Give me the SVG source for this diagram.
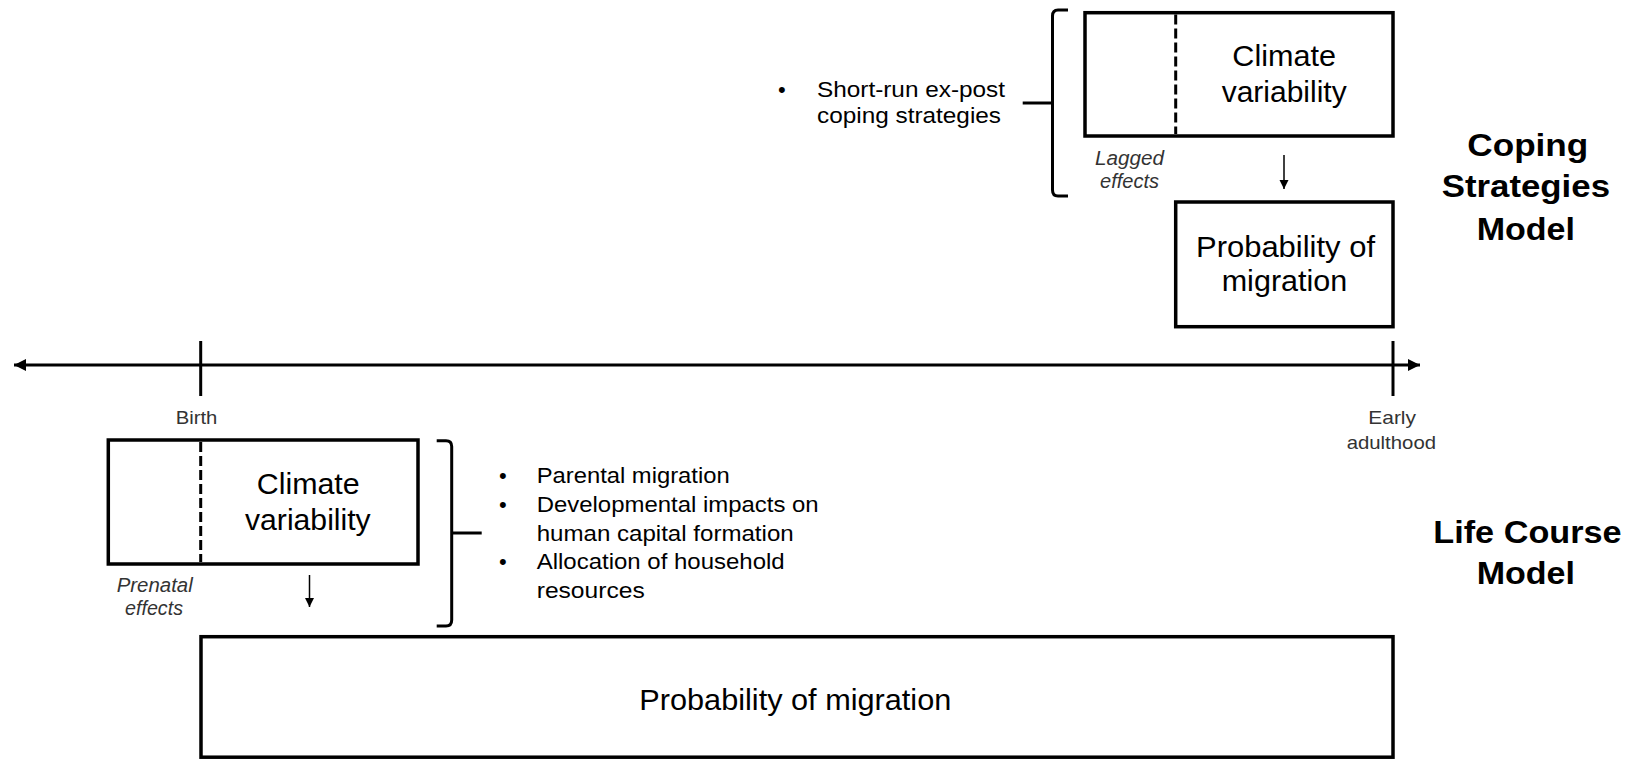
<svg xmlns="http://www.w3.org/2000/svg" width="1633" height="759" viewBox="0 0 1633 759">
<style>
text{font-family:"Liberation Sans",Arial,Helvetica,sans-serif;fill:#000}
.box{fill:#fff;stroke:#000;stroke-width:3.5}
.dash{stroke:#000;stroke-width:3;stroke-dasharray:10 4;fill:none}
.ln{stroke:#000;stroke-width:3;fill:none}
.br{stroke:#000;stroke-width:3;fill:none;stroke-linejoin:round}
.sm{stroke:#000;stroke-width:1.5;fill:none}
.big{font-size:30px}
.prob{font-size:30px}
.bul{font-size:22px}
.lab{font-size:19px;fill:#333}
.it{font-size:20px;font-style:italic;fill:#333}
.ttl{font-size:32px;font-weight:bold}
</style>
<defs>
<marker id="sa" viewBox="0 0 10 10" refX="10" refY="5" markerWidth="9" markerHeight="10" markerUnits="userSpaceOnUse" orient="auto">
<path d="M0,0 L10,5 L0,10 z" fill="#000"/>
</marker>
<marker id="ax" viewBox="0 0 10 10" refX="10" refY="5" markerWidth="12" markerHeight="12" markerUnits="userSpaceOnUse" orient="auto-start-reverse">
<path d="M0,0 L10,5 L0,10 z" fill="#000"/>
</marker>
</defs>

<g id="connectors">
<line class="ln" x1="14" y1="365" x2="1420" y2="365" marker-start="url(#ax)" marker-end="url(#ax)"/>
<line class="ln" x1="200.7" y1="341" x2="200.7" y2="396"/>
<line class="ln" x1="1393" y1="341" x2="1393" y2="396"/>
<line class="sm" x1="1284" y1="155" x2="1284" y2="189" marker-end="url(#sa)"/>
<line class="sm" x1="309.5" y1="575" x2="309.5" y2="607" marker-end="url(#sa)"/>
<path class="br" d="M1068,10 L1058,10 Q1052.5,10 1052.5,16 L1052.5,190 Q1052.5,196 1058,196 L1068,196"/>
<path class="br" d="M1022.7,103 L1052.5,103"/>
<path class="br" d="M436.7,440.7 L446,440.7 Q451.7,440.7 451.7,446.5 L451.7,620 Q451.7,626 446,626 L436.7,626"/>
<path class="br" d="M451.7,533 L481.7,533"/>
</g>

<g id="cs-climate">
<rect class="box" x="1085" y="12.7" width="308" height="123.3"/>
<line class="dash" x1="1175.7" y1="14.5" x2="1175.7" y2="134"/>
<text class="big" x="1232.3" y="66" textLength="103.7" lengthAdjust="spacingAndGlyphs">Climate</text>
<text class="big" x="1221.7" y="102" textLength="125" lengthAdjust="spacingAndGlyphs">variability</text>
</g>

<g id="cs-lagged">
<text class="it" x="1095" y="165" textLength="69" lengthAdjust="spacingAndGlyphs">Lagged</text>
<text class="it" x="1100" y="188" textLength="59" lengthAdjust="spacingAndGlyphs">effects</text>
</g>

<g id="cs-coping">
<text class="bul" x="778" y="96.7">•</text>
<text class="bul" x="817" y="96.7" textLength="188" lengthAdjust="spacingAndGlyphs">Short-run ex-post</text>
<text class="bul" x="817" y="123.3" textLength="184" lengthAdjust="spacingAndGlyphs">coping strategies</text>
</g>

<g id="cs-probability">
<rect class="box" x="1175.7" y="202" width="217.3" height="124.7"/>
<text class="prob" x="1196" y="257" textLength="179" lengthAdjust="spacingAndGlyphs">Probability of</text>
<text class="prob" x="1221.7" y="291" textLength="125.6" lengthAdjust="spacingAndGlyphs">migration</text>
</g>

<g id="title-coping">
<text class="ttl" x="1467.3" y="156" textLength="121" lengthAdjust="spacingAndGlyphs">Coping</text>
<text class="ttl" x="1441.7" y="196.7" textLength="168.3" lengthAdjust="spacingAndGlyphs">Strategies</text>
<text class="ttl" x="1476.7" y="240" textLength="98.3" lengthAdjust="spacingAndGlyphs">Model</text>
</g>

<g id="label-birth">
<text class="lab" x="175.7" y="424" textLength="41.7" lengthAdjust="spacingAndGlyphs">Birth</text>
</g>

<g id="label-adult">
<text class="lab" x="1368.3" y="424" textLength="47.7" lengthAdjust="spacingAndGlyphs">Early</text>
<text class="lab" x="1346.7" y="449.3" textLength="89.3" lengthAdjust="spacingAndGlyphs">adulthood</text>
</g>

<g id="lc-climate">
<rect class="box" x="108.3" y="440" width="309.7" height="124"/>
<line class="dash" x1="200.7" y1="442" x2="200.7" y2="562"/>
<text class="big" x="256.7" y="494" textLength="103" lengthAdjust="spacingAndGlyphs">Climate</text>
<text class="big" x="245" y="530" textLength="125.7" lengthAdjust="spacingAndGlyphs">variability</text>
</g>

<g id="lc-prenatal">
<text class="it" x="116.7" y="592" textLength="76" lengthAdjust="spacingAndGlyphs">Prenatal</text>
<text class="it" x="125" y="615" textLength="58" lengthAdjust="spacingAndGlyphs">effects</text>
</g>

<g id="lc-mechanisms">
<text class="bul" x="499" y="483.3">•</text>
<text class="bul" x="536.7" y="483.3" textLength="193" lengthAdjust="spacingAndGlyphs">Parental migration</text>
<text class="bul" x="499" y="511.7">•</text>
<text class="bul" x="536.7" y="511.7" textLength="282" lengthAdjust="spacingAndGlyphs">Developmental impacts on</text>
<text class="bul" x="536.7" y="541" textLength="257" lengthAdjust="spacingAndGlyphs">human capital formation</text>
<text class="bul" x="499" y="569">•</text>
<text class="bul" x="536.7" y="569" textLength="248" lengthAdjust="spacingAndGlyphs">Allocation of household</text>
<text class="bul" x="536.7" y="598.3" textLength="108" lengthAdjust="spacingAndGlyphs">resources</text>
</g>

<g id="lc-probability">
<rect class="box" x="201" y="636.7" width="1192" height="120.5"/>
<text class="prob" x="639.3" y="710" textLength="312" lengthAdjust="spacingAndGlyphs">Probability of migration</text>
</g>

<g id="title-lifecourse">
<text class="ttl" x="1433.3" y="543.3" textLength="188.3" lengthAdjust="spacingAndGlyphs">Life Course</text>
<text class="ttl" x="1476.7" y="584.3" textLength="98.3" lengthAdjust="spacingAndGlyphs">Model</text>
</g>
</svg>
